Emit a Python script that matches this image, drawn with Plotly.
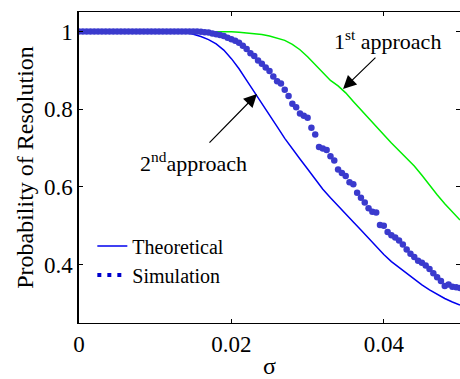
import plotly.graph_objects as go

# ---- data ----
sigma_theory = [0.000, 0.001, 0.002, 0.003, 0.004, 0.005, 0.006, 0.007, 0.008, 0.009,
                0.010, 0.011, 0.012, 0.013, 0.014, 0.015, 0.016, 0.017, 0.018, 0.019,
                0.020, 0.021, 0.022, 0.023, 0.024, 0.025, 0.026, 0.027, 0.028, 0.029,
                0.030, 0.031, 0.032, 0.033, 0.034, 0.035, 0.036, 0.037, 0.038, 0.039,
                0.040, 0.041, 0.042, 0.043, 0.044, 0.045, 0.046, 0.047, 0.048, 0.049,
                0.050]

theory_2nd = [1.0, 1.0, 1.0, 1.0, 1.0, 1.0, 1.0, 1.0, 1.0, 1.0,
              1.0, 1.0, 1.0, 1.0, 0.997, 0.993, 0.987, 0.979, 0.968, 0.952,
              0.930, 0.904, 0.874, 0.845, 0.815, 0.785, 0.755, 0.725, 0.697, 0.672,
              0.646, 0.620, 0.594, 0.572, 0.552, 0.531, 0.510, 0.489, 0.468, 0.447,
              0.426, 0.408, 0.393, 0.377, 0.362, 0.348, 0.335, 0.323, 0.313, 0.304,
              0.296]

theory_1st = [1.0, 1.0, 1.0, 1.0, 1.0, 1.0, 1.0, 1.0, 1.0, 1.0,
              1.0, 1.0, 1.0, 1.0, 1.0, 1.0, 1.0, 1.0, 1.0, 1.0,
              0.999, 0.998, 0.996, 0.994, 0.992, 0.988, 0.983, 0.977, 0.967, 0.953,
              0.935, 0.915, 0.895, 0.874, 0.860, 0.842, 0.820, 0.798, 0.776, 0.755,
              0.734, 0.713, 0.694, 0.674, 0.654, 0.630, 0.604, 0.580, 0.557, 0.536,
              0.515]

sigma_sim = [0.0000, 0.0005, 0.0010, 0.0015, 0.0020, 0.0025, 0.0030, 0.0035, 0.0040, 0.0045,
             0.0050, 0.0055, 0.0060, 0.0065, 0.0070, 0.0075, 0.0080, 0.0085, 0.0090, 0.0095,
             0.0100, 0.0105, 0.0110, 0.0115, 0.0120, 0.0125, 0.0130, 0.0135, 0.0140, 0.0145,
             0.0150, 0.0155, 0.0160, 0.0165, 0.0170, 0.0175, 0.0180, 0.0185, 0.0190, 0.0195,
             0.0200, 0.0205, 0.0210, 0.0215, 0.0220, 0.0225, 0.0230, 0.0235, 0.0240, 0.0245,
             0.0250, 0.0255, 0.0260, 0.0265, 0.0270, 0.0275, 0.0280, 0.0285, 0.0290, 0.0295,
             0.0300, 0.0305, 0.0310, 0.0315, 0.0320, 0.0325, 0.0330, 0.0335, 0.0340, 0.0345,
             0.0350, 0.0355, 0.0360, 0.0365, 0.0370, 0.0375, 0.0380, 0.0385, 0.0390, 0.0395,
             0.0400, 0.0405, 0.0410, 0.0415, 0.0420, 0.0425, 0.0430, 0.0435, 0.0440, 0.0445,
             0.0450, 0.0455, 0.0460, 0.0465, 0.0470, 0.0475, 0.0480, 0.0485, 0.0490, 0.0495,
             0.0500]

sim_values = [1.0, 1.0, 1.0, 1.0, 1.0, 1.0, 1.0, 1.0, 1.0, 1.0,
              1.0, 1.0, 1.0, 1.0, 1.0, 1.0, 1.0, 1.0, 1.0, 1.0,
              1.0, 1.0, 1.0, 1.0, 1.0, 1.0, 1.0, 1.0, 1.0, 1.0,
              1.0, 1.0, 0.999, 0.998, 0.997, 0.995, 0.993, 0.991, 0.988, 0.984,
              0.980, 0.976, 0.971, 0.963, 0.955, 0.944, 0.937, 0.925, 0.917, 0.907,
              0.898, 0.884, 0.872, 0.866, 0.850, 0.834, 0.814, 0.805, 0.789, 0.783,
              0.778, 0.752, 0.735, 0.703, 0.699, 0.695, 0.679, 0.668, 0.645, 0.636,
              0.628, 0.612, 0.607, 0.585, 0.572, 0.560, 0.545, 0.536, 0.534, 0.502,
              0.500, 0.484, 0.476, 0.470, 0.462, 0.452, 0.439, 0.428, 0.420, 0.410,
              0.405, 0.398, 0.389, 0.378, 0.368, 0.358, 0.345, 0.349, 0.343, 0.342,
              0.340]

x_ticks = [0, 0.02, 0.04]
x_tick_labels = ["0", "0.02", "0.04"]
y_ticks = [0.4, 0.6, 0.8, 1.0]
y_tick_labels = ["0.4", "0.6", "0.8", "1"]

FONT = "Times New Roman, Liberation Serif, DejaVu Serif, serif"

fig = go.Figure()
fig.add_trace(go.Scatter(x=sigma_theory, y=theory_1st, mode="lines",
                         line=dict(color="#00ee00", width=1.5), showlegend=False))
fig.add_trace(go.Scatter(x=sigma_theory, y=theory_2nd, mode="lines",
                         line=dict(color="#0000ee", width=1.5), name="Theoretical"))
fig.add_trace(go.Scatter(x=sigma_sim, y=sim_values, mode="markers",
                         marker=dict(color="rgb(58,58,205)", size=6.5), showlegend=False))
# legend sample for simulation (dotted)
fig.add_trace(go.Scatter(x=[None], y=[None], mode="lines", name="Simulation",
                         line=dict(color="#0000cc", width=4, dash="4px,6px")))

fig.update_layout(
    width=460, height=379,
    margin=dict(l=79, r=0, t=12, b=56, autoexpand=False),
    paper_bgcolor="white", plot_bgcolor="white",
    font=dict(family=FONT, size=22, color="black"),
    legend=dict(x=0.035, y=0.31, xanchor="left", yanchor="top",
                bgcolor="rgba(0,0,0,0)", font=dict(size=20, family=FONT),
                tracegroupgap=0),
    xaxis=dict(range=[0, 0.05], tickvals=x_ticks, ticktext=x_tick_labels,
               ticks="inside", ticklen=4, tickcolor="black", showgrid=False,
               zeroline=False, showline=True, linecolor="black", linewidth=1.2,
               mirror="ticks", tickfont=dict(size=23, family=FONT), automargin=False,
               title=dict(text="σ", font=dict(size=24, family=FONT), standoff=7)),
    yaxis=dict(range=[0.25, 1.05], tickvals=y_ticks, ticktext=y_tick_labels,
               ticks="inside", ticklen=4, tickcolor="black", showgrid=False,
               zeroline=False, showline=True, linecolor="black", linewidth=1.5,
               mirror="ticks", tickfont=dict(size=23, family=FONT), automargin=False,
               title=dict(text="Probability of Resolution",
                          font=dict(size=24, family=FONT), standoff=4)),
)

# arrows
fig.add_annotation(x=0.03465, y=0.852, ax=0.0391, ay=0.9365, xref="x", yref="y",
                   axref="x", ayref="y", text="", showarrow=True,
                   arrowhead=2, arrowsize=2.2, arrowwidth=1.2, arrowcolor="black")
fig.add_annotation(x=0.02336, y=0.839, ax=0.01693, ay=0.710, xref="x", yref="y",
                   axref="x", ayref="y", text="", showarrow=True,
                   arrowhead=2, arrowsize=2.2, arrowwidth=1.2, arrowcolor="black")
# labels
fig.add_annotation(x=0.0405, y=0.978, xref="x", yref="y", text="1<sup>st</sup> approach",
                   showarrow=False, font=dict(size=22, family=FONT))
fig.add_annotation(x=0.01496, y=0.664, xref="x", yref="y", text="2<sup>nd</sup>approach",
                   showarrow=False, font=dict(size=22, family=FONT))

fig.write_html("out.html", config={"displayModeBar": False},
               post_script="document.body.style.margin='0px';")
